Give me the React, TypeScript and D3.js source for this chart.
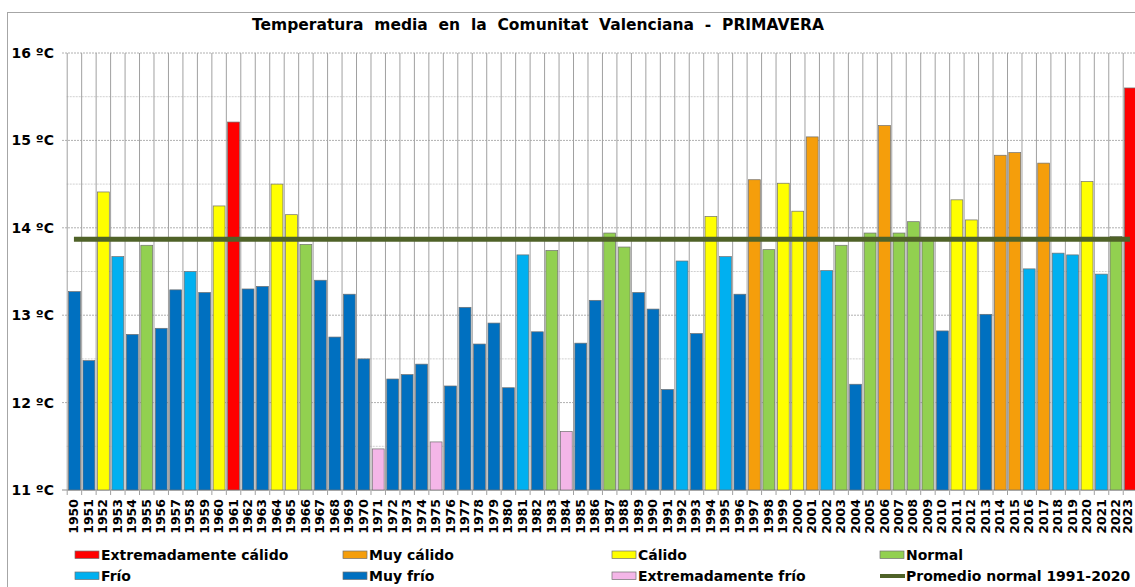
import React from "react";
import * as d3 from "d3";

// años y temperaturas medias de primavera (ºC)
const years = d3.range(1950, 2024).map(String);
const temps = [
  13.27, 12.48, 14.41, 13.67, 12.78, 13.8, 12.85, 13.29, 13.5, 13.26,
  14.25, 15.21, 13.3, 13.33, 14.5, 14.15, 13.81, 13.4, 12.75, 13.24,
  12.5, 11.47, 12.27, 12.32, 12.44, 11.55, 12.19, 13.09, 12.67, 12.91,
  12.17, 13.69, 12.81, 13.74, 11.67, 12.68, 13.17, 13.94, 13.78, 13.26,
  13.07, 12.15, 13.62, 12.79, 14.13, 13.67, 13.24, 14.55, 13.75, 14.51,
  14.19, 15.04, 13.51, 13.8, 12.21, 13.94, 15.17, 13.94, 14.07, 13.89,
  12.82, 14.32, 14.09, 13.01, 14.83, 14.86, 13.53, 14.74, 13.71, 13.69,
  14.53, 13.47, 13.9, 15.6,
];
// EC extremadamente cálido, MC muy cálido, C cálido, N normal, F frío, MF muy frío, EF extremadamente frío
const classes = [
  "MF", "MF", "C", "F", "MF", "N", "MF", "MF", "F", "MF",
  "C", "EC", "MF", "MF", "C", "C", "N", "MF", "MF", "MF",
  "MF", "EF", "MF", "MF", "MF", "EF", "MF", "MF", "MF", "MF",
  "MF", "F", "MF", "N", "EF", "MF", "MF", "N", "N", "MF",
  "MF", "MF", "F", "MF", "C", "F", "MF", "MC", "N", "C",
  "C", "MC", "F", "N", "MF", "N", "MC", "N", "N", "N",
  "MF", "C", "C", "MF", "MC", "MC", "F", "MC", "F", "F",
  "C", "F", "N", "EC",
];
const normal = 13.87;
const yTicks = [11, 12, 13, 14, 15, 16];

const colors: Record<string, string> = {
  EC: "#ff0000",
  MC: "#f59e0b",
  C: "#ffff00",
  N: "#92d050",
  F: "#00b0f0",
  MF: "#0070c0",
  EF: "#f4b6e8",
};

const legendRows = [
  [["EC", "Extremadamente cálido"], ["MC", "Muy cálido"], ["C", "Cálido"], ["N", "Normal"]],
  [["F", "Frío"], ["MF", "Muy frío"], ["EF", "Extremadamente frío"], ["avg", "Promedio normal 1991-2020"]],
];

const W = 1135;
const H = 587;
const font = "'DejaVu Sans', Verdana, sans-serif";

export default function App() {
  const x = d3.scaleBand().domain(years).range([66.7, 1137.2]).padding(0);
  const y = d3.scaleLinear().domain([11, 16]).range([490, 53]);
  const bw = x.bandwidth();
  const inset = bw * 0.09;
  const halfTicks = d3.range(11.5, 16, 1);
  const legendX = [75, 343, 612, 880];
  const legendY = [555, 576];

  const first = x(years[0])! + bw / 2;
  const last = x(years[years.length - 1])! + bw / 2;

  return (
    <svg width={W} height={H} style={{ position: "absolute", left: 0, top: 0, background: "#fff" }}>
      <defs>
        <filter id="glow" x="-5%" y="-200%" width="110%" height="500%">
          <feGaussianBlur stdDeviation="2.5" />
        </filter>
      </defs>
      <rect x={0} y={0} width={W} height={H} fill="#fff" />
      <rect x={7.5} y={12.5} width={W} height={H} fill="none" stroke="#a6a6a6" strokeWidth={1} />

      <text x={538} y={30} textAnchor="middle" fontFamily={font} fontWeight="bold" fontSize={15.5}
        style={{ whiteSpace: "pre" }} fill="#000">
        {"Temperatura  media  en  la  Comunitat  Valenciana  -  PRIMAVERA"}
      </text>

      {/* rejilla horizontal */}
      {halfTicks.map((t) => (
        <line key={"h" + t} x1={66.7} x2={W} y1={y(t)} y2={y(t)} stroke="#d0d0d0" strokeDasharray="2,1" />
      ))}
      {yTicks.map((t) => (
        <line key={"g" + t} x1={62} x2={W} y1={y(t)} y2={y(t)}
          stroke={t === 11 ? "#8c8c8c" : "#b0b0b0"} strokeDasharray={t === 11 ? undefined : "2,1"} />
      ))}
      {/* rejilla vertical */}
      {years.map((yr) => (
        <line key={"v" + yr} x1={x(yr)! + 0.5} x2={x(yr)! + 0.5} y1={53} y2={495} stroke="#a0a0a0" strokeWidth={1} />
      ))}

      {/* barras */}
      {years.map((yr, i) => (
        <rect key={"b" + yr} x={x(yr)! + inset + 0.5} width={bw - 2 * inset} y={y(temps[i])}
          height={y(11) - y(temps[i])} fill={colors[classes[i]]} stroke="#6f6f6f" strokeWidth={0.7} />
      ))}

      {/* promedio normal */}
      <line x1={first} x2={last} y1={y(normal)} y2={y(normal)} stroke="#4f6228" strokeOpacity={0.55}
        strokeWidth={9} filter="url(#glow)" />
      <line x1={first} x2={last} y1={y(normal)} y2={y(normal)} stroke="#4f6228" strokeWidth={5} />

      {/* eje Y */}
      {yTicks.map((t) => (
        <text key={"yl" + t} x={54} y={y(t) + 5} textAnchor="end" fontFamily={font} fontWeight="bold" fontSize={14} fill="#000">
          {t + " ºC"}
        </text>
      ))}

      {/* eje X */}
      {years.map((yr) => (
        <text key={"xl" + yr}
          transform={`translate(${Math.min(x(yr)! + bw / 2 + 4.5, 1131.5)},499) rotate(-90)`} textAnchor="end"
          fontFamily={font} fontWeight="bold" fontSize={12.5} fill="#000">
          {yr}
        </text>
      ))}

      {/* leyenda */}
      {legendRows.map((row, r) =>
        row.map(([k, label], c) => (
          <g key={"lg" + k} transform={`translate(${legendX[c]},${legendY[r]})`}>
            {k === "avg" ? (
              <line x1={0} x2={25} y1={0} y2={0} stroke="#4f6228" strokeWidth={4} />
            ) : (
              <rect x={0} y={-4} width={24} height={7.5} fill={colors[k]} stroke="#6f6f6f" strokeWidth={0.7} />
            )}
            <text x={26} y={5} fontFamily={font} fontWeight="bold" fontSize={14} fill="#000">
              {label}
            </text>
          </g>
        ))
      )}
    </svg>
  );
}
